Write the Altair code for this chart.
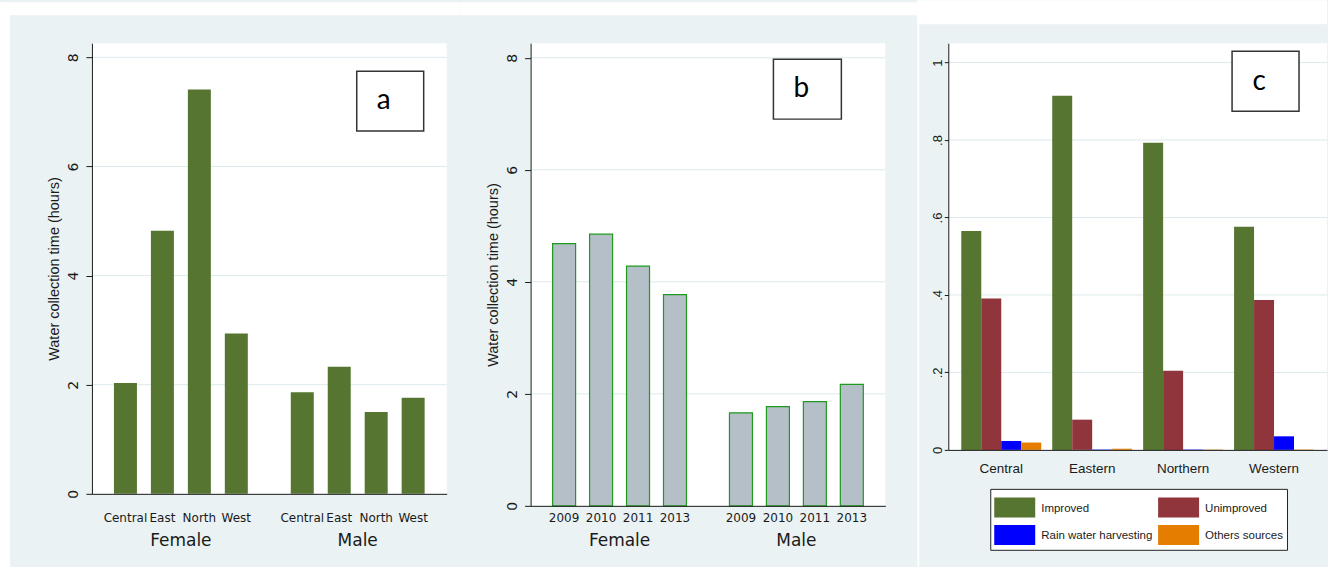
import altair as alt

# Panel a: mean water collection time by region, split by sex
regions = ["Central", "East", "North", "West"]
female_by_region = [2.03, 4.82, 7.41, 2.94]
male_by_region = [1.86, 2.33, 1.50, 1.76]

# Panel b: mean water collection time by survey year, split by sex
years = ["2009", "2010", "2011", "2013"]
female_by_year = [4.68, 4.85, 4.28, 3.77]
male_by_year = [1.66, 1.77, 1.86, 2.17]

sexes = ["Female", "Male"]
hour_ticks = [0, 2, 4, 6, 8]

# Panel c: share of households by main drinking water source
c_regions = ["Central", "Eastern", "Northern", "Western"]
sources = ["Improved", "Unimproved", "Rain water harvesting", "Others sources"]
improved = [0.565, 0.914, 0.793, 0.576]
unimproved = [0.391, 0.078, 0.204, 0.387]
rain_water = [0.023, 0.001, 0.001, 0.035]
other_sources = [0.019, 0.003, 0.001, 0.001]
source_colors = ["#567530", "#90353B", "#0000FF", "#E57E00"]
share_ticks = [0, 0.2, 0.4, 0.6, 0.8, 1.0]

panel_tags = ["a", "b", "c"]
y_title = "Water collection time (hours)"

BG = "#EAF2F3"
GRID = "#DDE9EC"
INK = "#1a1a1a"
WIDE = "DejaVu Sans"
SANS = "Liberation Sans"
TAG = "Lato"

one = alt.Data(values=[{}])


def blank(x1, x2, y1, y2, color="white"):
    return alt.Chart(one).mark_rect(color=color).encode(
        x=alt.value(x1), x2=alt.value(x2), y=alt.value(y1), y2=alt.value(y2)
    )


def tag_box(letter, x1, x2, y1, y2, tx, ty, size=28):
    box = alt.Chart(one).mark_rect(
        fill="white", stroke="#333333", strokeWidth=1.5
    ).encode(x=alt.value(x1), x2=alt.value(x2), y=alt.value(y1), y2=alt.value(y2))
    txt = alt.Chart(one).mark_text(
        font=TAG, fontSize=size, color="black", align="center", baseline="middle"
    ).encode(x=alt.value(tx), y=alt.value(ty), text=alt.value(letter))
    return [box, txt]


def hours_panel(cat_name, cats, female, male, bar_style, height, group_pad, strips, tag):
    rows = [
        {"sex": s, cat_name: c, "hours": v}
        for s, vals in zip(sexes, [female, male])
        for c, v in zip(cats, vals)
    ]
    data = alt.Data(values=rows)
    y_scale = alt.Scale(domain=[0, 8.26], nice=False)
    y_axis = alt.Axis(
        values=hour_ticks, format="d", title=y_title, grid=False,
        labelAngle=270, labelAlign="center", labelBaseline="alphabetic",
        labelFont=WIDE, labelFontSize=14, labelColor=INK, labelPadding=8,
        tickSize=6, tickColor=INK, domainColor=INK,
        titleFont=SANS, titleFontSize=14.5, titleFontWeight="normal",
        titleColor=INK, titlePadding=5, zindex=1,
    )
    x = alt.X(
        "sex:N", sort=sexes,
        scale=alt.Scale(paddingInner=0.164, paddingOuter=0.085),
        axis=alt.Axis(
            title=None, ticks=False, tickSize=0, labelAngle=0,
            labelPadding=group_pad, labelBaseline="middle",
            labelFont=WIDE, labelFontSize=17, labelColor=INK,
            domainColor=INK, domainWidth=1, grid=False, zindex=1,
        ),
    )
    xo = alt.XOffset(
        f"{cat_name}:N", sort=cats,
        scale=alt.Scale(paddingInner=0.378, paddingOuter=0.189),
    )
    grid = alt.Chart(alt.Data(values=[{"hours": t} for t in hour_ticks[1:]])).mark_rule(
        color=GRID, strokeWidth=1
    ).encode(y=alt.Y("hours:Q", scale=y_scale, axis=y_axis))
    bars = alt.Chart(data).mark_bar(**bar_style).encode(
        x=x, xOffset=xo, y=alt.Y("hours:Q", scale=y_scale, axis=y_axis)
    )
    labels = alt.Chart(data).mark_text(
        font=WIDE, fontSize=12, color=INK, baseline="middle"
    ).encode(x=x, xOffset=xo, y=alt.value(475), text=f"{cat_name}:N")
    layers = strips + [grid, bars, labels] + tag
    return alt.layer(*layers).properties(width=355, height=height)


panel_a = hours_panel(
    "area", regions, female_by_region, male_by_region,
    dict(color="#567530"), 451, 47,
    [blank(-92, 368, -41, -28), blank(-92, -82, -41, 526)],
    tag_box(panel_tags[0], 265, 332, 28, 88, 292, 58),
)

panel_b = hours_panel(
    "year", years, female_by_year, male_by_year,
    dict(fill="#B4BFC8", stroke="#1E9A1E", strokeWidth=1.2), 463, 35,
    [blank(-71, 387, -41, -28)],
    tag_box(panel_tags[1], 243, 311, 16, 76, 271, 46),
)

# Panel c
c_rows = []
for i, reg in enumerate(c_regions):
    for src, vals in zip(sources, [improved, unimproved, rain_water, other_sources]):
        c_rows.append({"region": reg, "source": src, "share": vals[i]})

share_scale = alt.Scale(domain=[0, 1.05], nice=False)
share_axis = alt.Axis(
    values=share_ticks, title=None, grid=False,
    labelExpr="datum.value == 0 ? '0' : datum.value == 1 ? '1' : replace(format(datum.value, '.1f'), '0.', '.')",
    labelAngle=270, labelAlign="center", labelBaseline="alphabetic",
    labelFont=SANS, labelFontSize=13, labelColor=INK, labelPadding=3,
    tickSize=4, tickColor=INK, domainColor=INK, zindex=1,
)
c_grid = alt.Chart(alt.Data(values=[{"share": t} for t in share_ticks[1:]])).mark_rule(
    color=GRID, strokeWidth=1
).encode(y=alt.Y("share:Q", scale=share_scale, axis=share_axis))

c_bars = alt.Chart(alt.Data(values=c_rows)).mark_bar().encode(
    x=alt.X(
        "region:N", sort=c_regions,
        scale=alt.Scale(paddingInner=0.121, paddingOuter=0.143),
        axis=alt.Axis(
            title=None, ticks=False, tickSize=0, labelAngle=0, labelPadding=19,
            labelBaseline="middle", labelFont=SANS, labelFontSize=13.5,
            labelColor=INK, domainColor=INK, grid=False, zindex=1,
        ),
    ),
    xOffset=alt.XOffset(
        "source:N", sort=sources, scale=alt.Scale(paddingInner=0, paddingOuter=0)
    ),
    y=alt.Y("share:Q", scale=share_scale, axis=share_axis),
    color=alt.Color(
        "source:N",
        scale=alt.Scale(domain=sources, range=source_colors),
        legend=alt.Legend(
            title=None, orient="none", legendX=42, legendY=446,
            direction="horizontal", columns=2,
            symbolType="M-1,-0.8H1V0.176H-1Z", symbolSize=1681,
            symbolStrokeWidth=0, symbolOpacity=1,
            labelFont=SANS, labelFontSize=11.5, labelColor=INK, labelOffset=6,
            labelBaseline="bottom",
            labelLimit=300, columnPadding=5, rowPadding=3, padding=4,
            strokeColor="#222222", fillColor="white",
        ),
    ),
)

panel_c = alt.layer(
    blank(-31, 379, -43, -19), blank(-31, -29, -43, 524), c_grid, c_bars,
    *tag_box(panel_tags[2], 284, 351, 8, 68, 311, 39),
).properties(width=379, height=407)

chart = (
    alt.hconcat(panel_a, panel_b, panel_c, spacing=0)
    .resolve_scale(x="independent", y="independent", xOffset="independent", color="independent")
    .resolve_legend(color="independent")
    .properties(padding=0, background=BG)
    .configure_view(fill="white", strokeWidth=0)
)

chart.save("out.html", embed_options={"renderer": "svg", "actions": False})
